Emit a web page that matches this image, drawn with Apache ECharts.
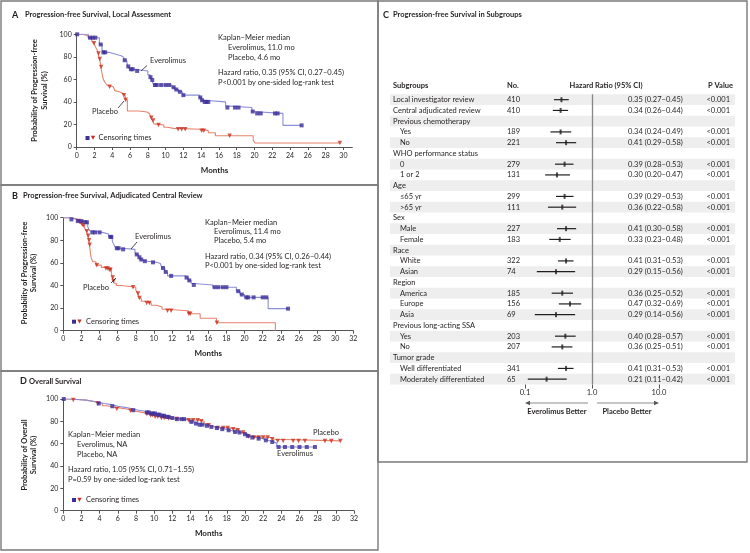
<!DOCTYPE html>
<html><head><meta charset="utf-8">
<script src="https://cdn.jsdelivr.net/npm/echarts@6/dist/echarts.min.js"></script>
<style>html,body{margin:0;padding:0;background:#fff}#c{width:750px;height:553px}</style>
</head><body><div id="c"></div>
<script>
// ---------- Panel A: PFS, local assessment ----------
const aEveroTime = [0,1.3,2.55,2.85,2.95,3.6,4.3,5.0,5.3,5.6,5.75,5.95,6.5,8.0,8.25,8.45,8.55,8.7,10.7,11.05,11.45,11.9,13.8,14.05,14.3,16.75,16.9,19.7,19.9,23.2,25.3];
const aEveroSurv = [100,97,91,86.5,84,82.5,81,79.5,77,75.5,71.5,69,67.5,64,62,59.5,57,55,53,51,49,46,44,41.5,40,36.5,35,31.5,29.8,19.2,19.2];
const aEveroCens = [0.05,1.5,1.8,2.1,2.7,3.0,3.2,5.4,5.8,6.1,6.3,6.8,8.3,8.5,8.8,9.0,9.5,10.0,10.4,10.9,11.2,11.6,12.0,13.9,14.1,14.4,14.6,14.8,16.95,17.8,18.2,19.8,20.3,20.7,22.3,22.6,25.3];
const aPlacTime = [0,0.7,1.3,1.7,1.9,2.1,2.3,2.4,2.55,2.65,2.72,2.8,2.9,3.0,3.2,3.4,3.6,4.1,4.3,4.5,4.8,5.2,5.45,5.7,7.0,7.9,8.2,8.35,8.5,8.7,8.9,9.8,10.2,10.9,13.95,14.8,15.6,19.85,20.05,29.6];
const aPlacSurv = [100,98.5,96.5,94,92,89,86,83,78,75,71,67,63,60,57,55,53.5,52,50,49,47.5,46,42,32,31,29.5,28,26,23.5,20.5,19.5,17.5,16.5,15.8,14.5,12.7,10,6,3.5,3.5];
const aPlacCens = [1.95,2.45,2.6,2.75,3.7,5.3,5.5,8.4,8.6,9.2,11.4,11.8,12.2,14.05,14.3,17.2,29.6];

// ---------- Panel B: PFS, central review ----------
const bEveroTime = [0,0.8,1.5,2.3,2.7,2.9,3.1,4.3,5.0,5.4,5.5,5.65,5.85,6.5,7.9,8.0,8.3,8.5,8.7,9.3,10.3,10.7,10.9,11.2,11.5,13.5,13.8,14.1,14.3,16.5,19.1,19.5,20.0,22.6,24.8];
const bEveroSurv = [100,98.5,97,96,92,88.5,87,85.5,83,80,77.5,75,73,72,70,67.5,65,63,61.5,60.5,59.5,58,55.5,52,48.5,47,44.5,42,40.5,38.5,35,32,29.5,19.5,19.5];
const bEveroCens = [0.9,1.6,2.0,2.4,2.6,3.2,3.5,4.0,5.2,5.3,5.9,6.1,6.6,8.1,8.4,8.6,9.0,9.9,11.0,11.3,11.9,13.6,13.9,14.4,16.7,17.1,17.6,18.0,19.3,19.7,20.2,20.4,21.0,22.0,22.4,24.8];
const bPlacTime = [0,0.9,1.5,1.8,2.1,2.35,2.55,2.7,2.8,2.88,2.95,3.0,3.1,3.25,3.6,4.2,4.6,5.0,5.3,5.42,5.5,5.6,5.85,6.4,8.0,8.2,8.35,8.6,9.0,9.7,10.3,10.9,11.3,13.8,15.1,16.9,23.4];
const bPlacSurv = [100,99,97,95,93,91,88,84,80,76,72,68,64,61,58,56,55,54,51,47,44,42,40,38.5,36,33,29,26,24.5,22.5,21,19,17.7,15,11,7,0];
const bPlacCens = [1.7,2.0,2.2,2.6,2.75,2.85,2.92,3.7,4.7,4.9,5.1,5.2,5.45,5.55,7.7,8.25,8.4,9.2,9.5,11.5,11.9,13.85,14.0,16.95];

// ---------- Panel D: overall survival ----------
const dEveroTime = [0,0.5,1.5,2.5,3.3,3.8,4.5,5.3,6.0,6.8,7.5,8.3,9.0,9.6,10.2,10.8,11.3,11.8,12.2,13.5,13.9,14.4,14.9,15.5,16.1,16.7,17.3,17.9,18.4,19.0,19.6,20.1,20.5,21.2,22.0,22.5,23.2,23.5,27.7];
const dEveroSurv = [100,99.5,99,98,97,96,95,93.5,92.5,91.5,90,89,88,87,86,85,84,83,82,81.5,79.5,78,77,76,75,74,73,72,70.5,70,68.5,67,65.5,64.5,63,61.5,60.5,57,57];
const dEveroCens = [0.05,3.9,5.4,7.7,9.2,9.4,9.7,9.9,10.1,10.4,10.6,10.9,11.1,11.4,11.6,12.0,12.5,13.0,13.3,14.1,14.6,15.0,15.3,15.8,16.3,16.9,17.5,18.2,18.9,19.4,20.0,20.3,20.8,21.5,22.3,23.0,23.7,24.4,25.2,26.0,26.8,27.7];
const dPlacTime = [0,1.0,2.5,3.5,4.3,4.8,5.8,7.0,7.7,8.7,9.5,9.9,10.6,11.3,12.1,13.0,13.6,15.0,15.5,15.8,16.2,16.8,18.5,19.0,19.4,20.0,20.3,20.6,22.9,23.2,30.5];
const dPlacSurv = [100,99,97.5,96,94,92.5,91,89.5,88,86.5,85.5,84,83,82.5,82,81.5,81,80,78,76.5,75,74,73,72,70,68.5,66.5,65.5,64,62.5,62.5];
const dPlacCens = [1.1,3.8,5.9,7.4,9.2,9.6,9.8,10.1,10.4,10.8,11.1,11.6,12.5,13.8,14.3,14.8,15.2,16.0,17.0,17.6,18.1,18.7,19.2,19.8,20.4,21.0,21.5,22.0,22.5,23.0,23.6,24.2,25.3,25.9,26.6,28.8,29.5,30.5];

const monthTicksA = [0,2,4,6,8,10,12,14,16,18,20,22,24,26,28,30];

// ---------- Panel C: forest plot ----------
const subgroupLabels = ['Local investigator review','Central adjudicated review','Previous chemotherapy','Yes','No','WHO performance status','0','1 or 2','Age','\u226465 yr','>65 yr','Sex','Male','Female','Race','White','Asian','Region','America','Europe','Asia','Previous long-acting SSA','Yes','No','Tumor grade','Well differentiated','Moderately differentiated'];
const subgroupIndent = [0,0,0,1,1,0,1,1,0,1,1,0,1,1,0,1,1,0,1,1,1,0,1,1,0,1,1];
const patientsNo = ['410','410','','189','221','','279','131','','299','111','','227','183','','322','74','','185','156','69','','203','207','','341','65'];
const hazardRatio = [0.35,0.34,null,0.34,0.41,null,0.39,0.30,null,0.39,0.36,null,0.41,0.33,null,0.41,0.29,null,0.36,0.47,0.29,null,0.40,0.36,null,0.41,0.21];
const ciLow = [0.27,0.26,null,0.24,0.29,null,0.28,0.20,null,0.29,0.22,null,0.30,0.23,null,0.31,0.15,null,0.25,0.32,0.14,null,0.28,0.25,null,0.31,0.11];
const ciHigh = [0.45,0.44,null,0.49,0.58,null,0.53,0.47,null,0.53,0.58,null,0.58,0.48,null,0.53,0.56,null,0.52,0.69,0.56,null,0.57,0.51,null,0.53,0.42];
const pValues = ['<0.001','<0.001','','<0.001','<0.001','','<0.001','<0.001','','<0.001','<0.001','','<0.001','<0.001','','<0.001','<0.001','','<0.001','<0.001','<0.001','','<0.001','<0.001','','<0.001','<0.001'];
const hrTicks = [0.1, 1, 10];

// ---------- helpers ----------
const FONT = 'Lato, "Open Sans", "DejaVu Sans", sans-serif';
const TXT = '#231f20';
const EV_LINE = '#8b8fd6', EV_MARK = '#3d2e98';
const PL_LINE = '#e8826c', PL_MARK = '#c63222';
const AX = '#555555';

function pairs(t, s) { return t.map((v, i) => [v, s[i]]); }
function survAt(t, s, x) { let v = s[0]; for (let i = 0; i < t.length; i++) { if (t[i] <= x) v = s[i]; } return v; }
function censPairs(t, s, c) { return c.map(x => [x, survAt(t, s, x)]); }

function T(x, y, s, o) {
  o = o || {};
  const st = { text: s, fill: o.color || TXT, fontSize: o.size || 7.5, fontWeight: o.bold ? 'bold' : 'normal', fontFamily: FONT,
    textAlign: o.align || 'left', textVerticalAlign: o.va || 'middle', align: o.align || 'left', verticalAlign: o.va || 'middle' };
  if (o.lh) st.lineHeight = o.lh;
  return { type: 'text', x: x, y: y, rotation: o.rot || 0, silent: true, z: 50, style: st };
}
function L(x1, y1, x2, y2, c, w) { return { type: 'line', silent: true, z: 50, shape: { x1, y1, x2, y2 }, style: { stroke: c || TXT, lineWidth: w || 0.8 } }; }
function R(x, y, w, h, stroke, fill, lw) { return { type: 'rect', silent: true, z: 40, shape: { x, y, width: w, height: h }, style: { stroke: stroke || 'none', fill: fill || 'none', lineWidth: lw || 1 } }; }
function Tri(cx, cy, dir, c) {
  const pts = dir === 'down' ? [[cx-2.2,cy-1.8],[cx+2.2,cy-1.8],[cx,cy+2.2]] : dir === 'left' ? [[cx,cy],[cx+5,cy-2.2],[cx+5,cy+2.2]] : [[cx,cy],[cx-5,cy-2.2],[cx-5,cy+2.2]];
  return { type: 'polygon', silent: true, z: 50, shape: { points: pts }, style: { fill: c } };
}

function kmX(gi, max, ticks) {
  const o = { gridIndex: gi, type: 'value', min: 0, max: max, interval: 2,
    axisLine: { show: true, onZero: false, lineStyle: { color: AX, width: 1 } },
    axisTick: { show: true, length: 3, lineStyle: { color: AX } },
    axisLabel: { fontSize: 7, color: TXT, margin: 5, fontFamily: FONT },
    splitLine: { show: false },
    name: 'Months', nameLocation: 'middle', nameGap: 19,
    nameTextStyle: { fontWeight: 'bold', fontSize: 8, color: TXT, fontFamily: FONT } };
  if (ticks) { o.axisTick.customValues = ticks; o.axisLabel.customValues = ticks; }
  return o;
}
function kmY(gi) {
  return { gridIndex: gi, type: 'value', min: 0, max: 100, interval: 20,
    axisLine: { show: true, onZero: false, lineStyle: { color: AX, width: 1 } },
    axisTick: { show: true, length: 3, lineStyle: { color: AX } },
    axisLabel: { fontSize: 7, color: TXT, margin: 5, fontFamily: FONT },
    splitLine: { show: false } };
}
function kmSeries(gi, et, es, ec, pt, ps, pc) {
  return [
    { type: 'line', xAxisIndex: gi, yAxisIndex: gi, step: 'end', data: pairs(pt, ps), symbol: 'none', silent: true, lineStyle: { color: PL_LINE, width: 1.1 }, z: 2 },
    { type: 'line', xAxisIndex: gi, yAxisIndex: gi, step: 'end', data: pairs(et, es), symbol: 'none', silent: true, lineStyle: { color: EV_LINE, width: 1.1 }, z: 3 },
    { type: 'scatter', xAxisIndex: gi, yAxisIndex: gi, data: censPairs(pt, ps, pc), symbol: 'triangle', symbolRotate: 180, symbolSize: 4.5, silent: true, itemStyle: { color: PL_MARK }, z: 4 },
    { type: 'scatter', xAxisIndex: gi, yAxisIndex: gi, data: censPairs(et, es, ec), symbol: 'rect', symbolSize: 4, silent: true, itemStyle: { color: EV_MARK }, z: 5 }
  ];
}

// forest layout
const rowKeys = subgroupLabels.map((_, i) => String(i));
const FL = 525, FW = 134, FT = 94.3, FH = 290.25;

function catAxis(extra) {
  return Object.assign({ gridIndex: 4, type: 'category', data: rowKeys, inverse: true,
    axisLine: { show: false }, axisTick: { show: false }, splitLine: { show: false } }, extra);
}
function lab(margin, align, fmt, bold) {
  return { show: true, interval: 0, margin: margin, align: align, fontSize: 7.5, color: TXT, fontFamily: FONT, fontWeight: bold ? 'bold' : 'normal', formatter: fmt };
}

const ciData = [], hrData = [];
hazardRatio.forEach((h, i) => { if (h != null) { ciData.push([ciLow[i], ciHigh[i], i]); hrData.push([h, i]); } });

const chart = echarts.init(document.getElementById('c'), null, { renderer: 'canvas' });

const graphic = [
  // panel borders
  R(1, 1, 377, 184, '#7a7a7a', 'none', 1.4),
  R(1, 185, 377, 186, '#7a7a7a', 'none', 1.4),
  R(1, 371, 377, 179, '#7a7a7a', 'none', 1.4),
  R(378, 1, 369, 461, '#7a7a7a', 'none', 1.4),
  // panel titles
  T(12, 15, 'A', { bold: true, size: 9 }), T(25, 15, 'Progression-free Survival, Local Assessment', { bold: true }),
  T(12, 196, 'B', { bold: true, size: 9 }), T(23, 196, 'Progression-free Survival, Adjudicated Central Review', { bold: true }),
  T(20, 381.5, 'D', { bold: true, size: 9 }), T(29, 381.5, 'Overall Survival', { bold: true }),
  T(383, 15, 'C', { bold: true, size: 9 }), T(393, 15, 'Progression-free Survival in Subgroups', { bold: true }),
  // y titles
  T(40, 90.5, 'Probability of Progression-free\nSurvival (%)', { bold: true, rot: Math.PI / 2, align: 'center', lh: 10 }),
  T(29, 273, 'Probability of Progression-free\nSurvival (%)', { bold: true, rot: Math.PI / 2, align: 'center', lh: 9 }),
  T(29, 455, 'Probability of Overall\nSurvival (%)', { bold: true, rot: Math.PI / 2, align: 'center', lh: 9 }),
  // A annotations
  T(218, 37.7, 'Kaplan\u2013Meier median'), T(228, 47.5, 'Everolimus, 11.0 mo'), T(228, 57.3, 'Placebo, 4.6 mo'),
  T(218, 72.3, 'Hazard ratio, 0.35 (95% CI, 0.27\u20130.45)'), T(218, 82.3, 'P<0.001 by one-sided log-rank test'),
  T(150, 61, 'Everolimus'), L(147, 65.5, 141, 71),
  T(92, 112, 'Placebo'), L(118, 108, 124, 101),
  R(85.5, 136, 4, 4, 'none', EV_MARK), Tri(93, 137.5, 'down', PL_MARK), T(98.5, 138, 'Censoring times'),
  // B annotations
  T(205, 222.7, 'Kaplan\u2013Meier median'), T(214, 231.7, 'Everolimus, 11.4 mo'), T(214, 240.7, 'Placebo, 5.4 mo'),
  T(205, 256.7, 'Hazard ratio, 0.34 (95% CI, 0.26\u20130.44)'), T(205, 266, 'P<0.001 by one-sided log-rank test'),
  T(135, 236.7, 'Everolimus'), L(137, 242, 131, 249),
  T(83, 288, 'Placebo'), L(111, 283, 116, 278),
  R(72, 319.7, 4, 4, 'none', EV_MARK), Tri(79.5, 321.2, 'down', PL_MARK), T(86, 321.7, 'Censoring times'),
  // D annotations
  T(68, 435, 'Kaplan\u2013Meier median'), T(77, 445, 'Everolimus, NA'), T(77, 454.3, 'Placebo, NA'),
  T(68, 469.3, 'Hazard ratio, 1.05 (95% CI, 0.71\u20131.55)'), T(68, 479.3, 'P=0.59 by one-sided log-rank test'),
  T(313, 433, 'Placebo'), T(277, 454, 'Everolimus'),
  R(72, 498, 4, 4, 'none', EV_MARK), Tri(79.5, 499.5, 'down', PL_MARK), T(86, 500, 'Censoring times'),
  // C headers
  T(393, 86, 'Subgroups', { bold: true }), T(507, 86, 'No.', { bold: true }),
  T(606, 86, 'Hazard Ratio (95% CI)', { bold: true, align: 'center' }), T(733, 86, 'P Value', { bold: true, align: 'right' }),
  // arrows
  L(588, 403, 529, 403, '#8c8c8c', 1.2), Tri(525, 403, 'left', '#555'),
  L(597, 403, 655, 403, '#8c8c8c', 1.2), Tri(659, 403, 'right', '#555'),
  T(557, 412, 'Everolimus Better', { bold: true, align: 'center' }), T(627, 412, 'Placebo Better', { bold: true, align: 'center' })
];

const option = {
  animation: false,
  backgroundColor: '#ffffff',
  grid: [
    { left: 76.7, top: 34.3, width: 275.6, height: 112.7, outerBoundsMode: 'none', containLabel: false },
    { left: 63.3, top: 217.7, width: 290, height: 113, outerBoundsMode: 'none', containLabel: false },
    { left: 63.3, top: 399, width: 290.7, height: 111.7, outerBoundsMode: 'none', containLabel: false },
    { left: 390, top: FT, width: 345, height: FH, outerBoundsMode: 'none', containLabel: false },
    { left: FL, top: FT, width: FW, height: FH, outerBoundsMode: 'none', containLabel: false }
  ],
  xAxis: [
    kmX(0, 31, monthTicksA), kmX(1, 32), kmX(2, 32),
    { gridIndex: 3, type: 'value', show: false, min: 0, max: 1 },
    { gridIndex: 4, type: 'log', logBase: 10, min: 0.1, max: 10,
      axisLine: { show: false }, splitLine: { show: false },
      axisTick: { show: true, length: 4, lineStyle: { color: AX }, customValues: hrTicks },
      axisLabel: { fontSize: 7.5, color: TXT, margin: 4, fontFamily: FONT, customValues: hrTicks,
        formatter: v => (v < 0.5 ? '0.1' : v < 5 ? '1.0' : '10.0') } }
  ],
  yAxis: [
    kmY(0), kmY(1), kmY(2),
    { gridIndex: 3, type: 'category', data: rowKeys, inverse: true, axisLine: { show: false }, axisTick: { show: false }, axisLabel: { show: false },
      splitArea: { show: true, interval: 0, areaStyle: { color: ['#eeeeee', 'rgba(255,255,255,0)'] } } },
    catAxis({ axisLabel: { show: false } }),
    catAxis({ position: 'left', offset: 0, axisLabel: lab(132, 'left', (v, i) => subgroupIndent[i] ? '' : subgroupLabels[i]) }),
    catAxis({ position: 'left', offset: 0, axisLabel: lab(125, 'left', (v, i) => subgroupIndent[i] ? subgroupLabels[i] : '') }),
    catAxis({ position: 'left', offset: 0, axisLabel: lab(18, 'left', (v, i) => patientsNo[i]) }),
    catAxis({ position: 'left', offset: -103, axisLabel: lab(0, 'left', (v, i) => hazardRatio[i] == null ? '' :
      hazardRatio[i].toFixed(2) + ' (' + ciLow[i].toFixed(2) + '\u2013' + ciHigh[i].toFixed(2) + ')') }),
    catAxis({ position: 'right', offset: 71, axisLabel: lab(0, 'right', (v, i) => pValues[i]) })
  ],
  series: [
    ...kmSeries(0, aEveroTime, aEveroSurv, aEveroCens, aPlacTime, aPlacSurv, aPlacCens),
    ...kmSeries(1, bEveroTime, bEveroSurv, bEveroCens, bPlacTime, bPlacSurv, bPlacCens),
    ...kmSeries(2, dEveroTime, dEveroSurv, dEveroCens, dPlacTime, dPlacSurv, dPlacCens),
    { type: 'custom', xAxisIndex: 4, yAxisIndex: 4, data: ciData, clip: false, silent: true, z: 5,
      encode: { x: [0, 1], y: 2 },
      renderItem: function (params, api) {
        const a = api.coord([api.value(0), api.value(2)]);
        const b = api.coord([api.value(1), api.value(2)]);
        return { type: 'line', shape: { x1: a[0], y1: a[1], x2: b[0], y2: b[1] }, style: { stroke: TXT, lineWidth: 1.2 } };
      } },
    { type: 'scatter', xAxisIndex: 4, yAxisIndex: 4, data: hrData, symbol: 'rect', symbolSize: [2, 5], silent: true,
      itemStyle: { color: TXT }, z: 6,
      markLine: { silent: true, symbol: ['none', 'none'], label: { show: false }, animation: false,
        lineStyle: { color: '#888888', width: 1.3, type: 'solid' }, data: [{ xAxis: 1 }] } }
  ],
  graphic: graphic
};
chart.setOption(option);
</script>
</body></html>
